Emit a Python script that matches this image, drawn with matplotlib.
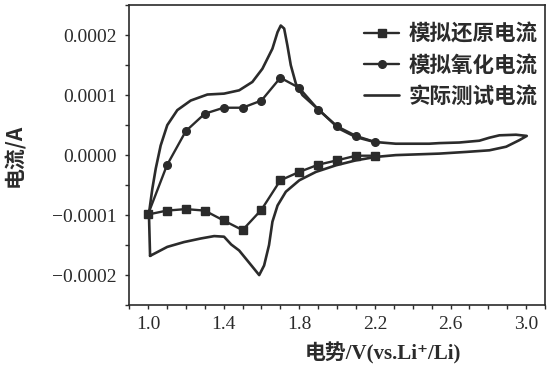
import matplotlib

matplotlib.use("Agg")
import matplotlib.pyplot as plt
from matplotlib.ticker import MultipleLocator, FixedLocator, FuncFormatter

# simulated currents, sampled every 0.1 V (1e-4 A units)
sim_potential = [1.0, 1.1, 1.2, 1.3, 1.4, 1.5, 1.6, 1.7, 1.8, 1.9, 2.0, 2.1, 2.2]
sim_reduction = [-0.99, -0.925, -0.90, -0.925, -1.09, -1.25, -0.91, -0.42,
                 -0.28, -0.16, -0.087, -0.01, -0.01]
sim_oxidation = [-0.99, -0.17, 0.40, 0.69, 0.79, 0.79, 0.91, 1.29,
                 1.12, 0.76, 0.48, 0.32, 0.22]

meas_potential = [1.011, 1.005, 1.023, 1.041, 1.067, 1.102, 1.155, 1.226, 1.314,
                  1.402, 1.482, 1.552, 1.605, 1.658, 1.685, 1.702, 1.720, 1.737,
                  1.755, 1.782, 1.817, 1.905, 2.011, 2.100, 2.196, 2.310, 2.487,
                  2.540, 2.646, 2.752, 2.805, 2.858, 2.946, 3.003, 2.964, 2.894,
                  2.805, 2.682, 2.540, 2.310, 2.205, 2.100, 1.994, 1.888, 1.800,
                  1.729, 1.685, 1.658, 1.640, 1.614, 1.588, 1.552, 1.482, 1.440,
                  1.402, 1.350, 1.279, 1.190, 1.102, 1.011]
meas_current = [-1.68, -0.975, -0.56, -0.225, 0.16, 0.50, 0.75, 0.91, 1.01,
                1.025, 1.08, 1.22, 1.44, 1.775, 2.05, 2.16, 2.11, 1.83,
                1.50, 1.19, 1.00, 0.75, 0.44, 0.30, 0.22, 0.19, 0.19,
                0.20, 0.21, 0.24, 0.29, 0.33, 0.34, 0.32, 0.25, 0.14,
                0.08, 0.053, 0.025, 0.0, -0.03, -0.087, -0.17, -0.28, -0.42,
                -0.61, -0.84, -1.11, -1.50, -1.84, -2.00, -1.86, -1.59, -1.49,
                -1.36, -1.35, -1.39, -1.45, -1.53, -1.68]

legend_labels = ["模拟还原电流", "模拟氧化电流", "实际测试电流"]
x_ticks = [1.0, 1.4, 1.8, 2.2, 2.6, 3.0]
x_label = "电势/V(vs.Li⁺/Li)"
y_label = "电流/A"

INK = "#2b2b2b"
SERIF = ["Liberation Serif", "DejaVu Serif", "Noto Sans CJK SC"]
CJK = ["Noto Sans CJK SC", "DejaVu Sans"]

scale = 1e-4
fig = plt.figure(figsize=(5.54, 3.68), dpi=100)
ax = fig.add_axes([0.233, 0.171, 0.751, 0.815])

line_kw = dict(color=INK, solid_joinstyle="round", solid_capstyle="round")
ax.plot(sim_potential, [v * scale for v in sim_reduction], lw=1.7,
        marker="s", markersize=5.5, label=legend_labels[0], **line_kw)
ax.plot(sim_potential, [v * scale for v in sim_oxidation], lw=1.7,
        marker="o", markersize=5.5, label=legend_labels[1], **line_kw)
ax.plot(meas_potential, [v * scale for v in meas_current], lw=1.9,
        label=legend_labels[2], **line_kw)

ax.set_xlim(0.9, 3.1)
ax.set_ylim(-0.00025, 0.00025)
ax.xaxis.set_major_locator(FixedLocator(x_ticks))
ax.xaxis.set_minor_locator(MultipleLocator(0.1))
ax.yaxis.set_major_locator(MultipleLocator(0.0001))
ax.yaxis.set_minor_locator(MultipleLocator(0.00005))
ax.xaxis.set_major_formatter(FuncFormatter(lambda v, _p: f"{v:.1f}"))
ax.yaxis.set_major_formatter(FuncFormatter(
    lambda v, _p: f"{v:.4f}".replace("-", "\u2212") if abs(v) > 1e-12 else "0.0000"))
ax.tick_params(which="both", direction="out", length=3, width=1.0, color=INK,
               labelsize=14, labelcolor=INK)
ax.tick_params(axis="x", which="major", pad=5)
ax.tick_params(axis="y", which="major", pad=6)
for lab in ax.get_xticklabels() + ax.get_yticklabels():
    lab.set_family(SERIF)
for spine in ax.spines.values():
    spine.set_linewidth(1.2)
    spine.set_color(INK)

ax.set_xlabel(x_label, family=SERIF, fontsize=15, color=INK, fontweight="bold")
ax.xaxis.set_label_coords(0.61, -0.125)
ax.set_ylabel(y_label, family=CJK, fontsize=15, color=INK, fontweight="bold")
ax.yaxis.set_label_coords(-0.25, 0.5)

leg = ax.legend(loc="upper right", bbox_to_anchor=(1.0, 0.965), frameon=False,
                handlelength=1.6, borderaxespad=0.15, borderpad=0.2,
                labelspacing=0.48, handletextpad=0.45,
                prop={"family": CJK, "weight": "bold", "size": 15.5})
for t in leg.get_texts():
    t.set_color(INK)

fig.savefig("out.png", dpi=100)
